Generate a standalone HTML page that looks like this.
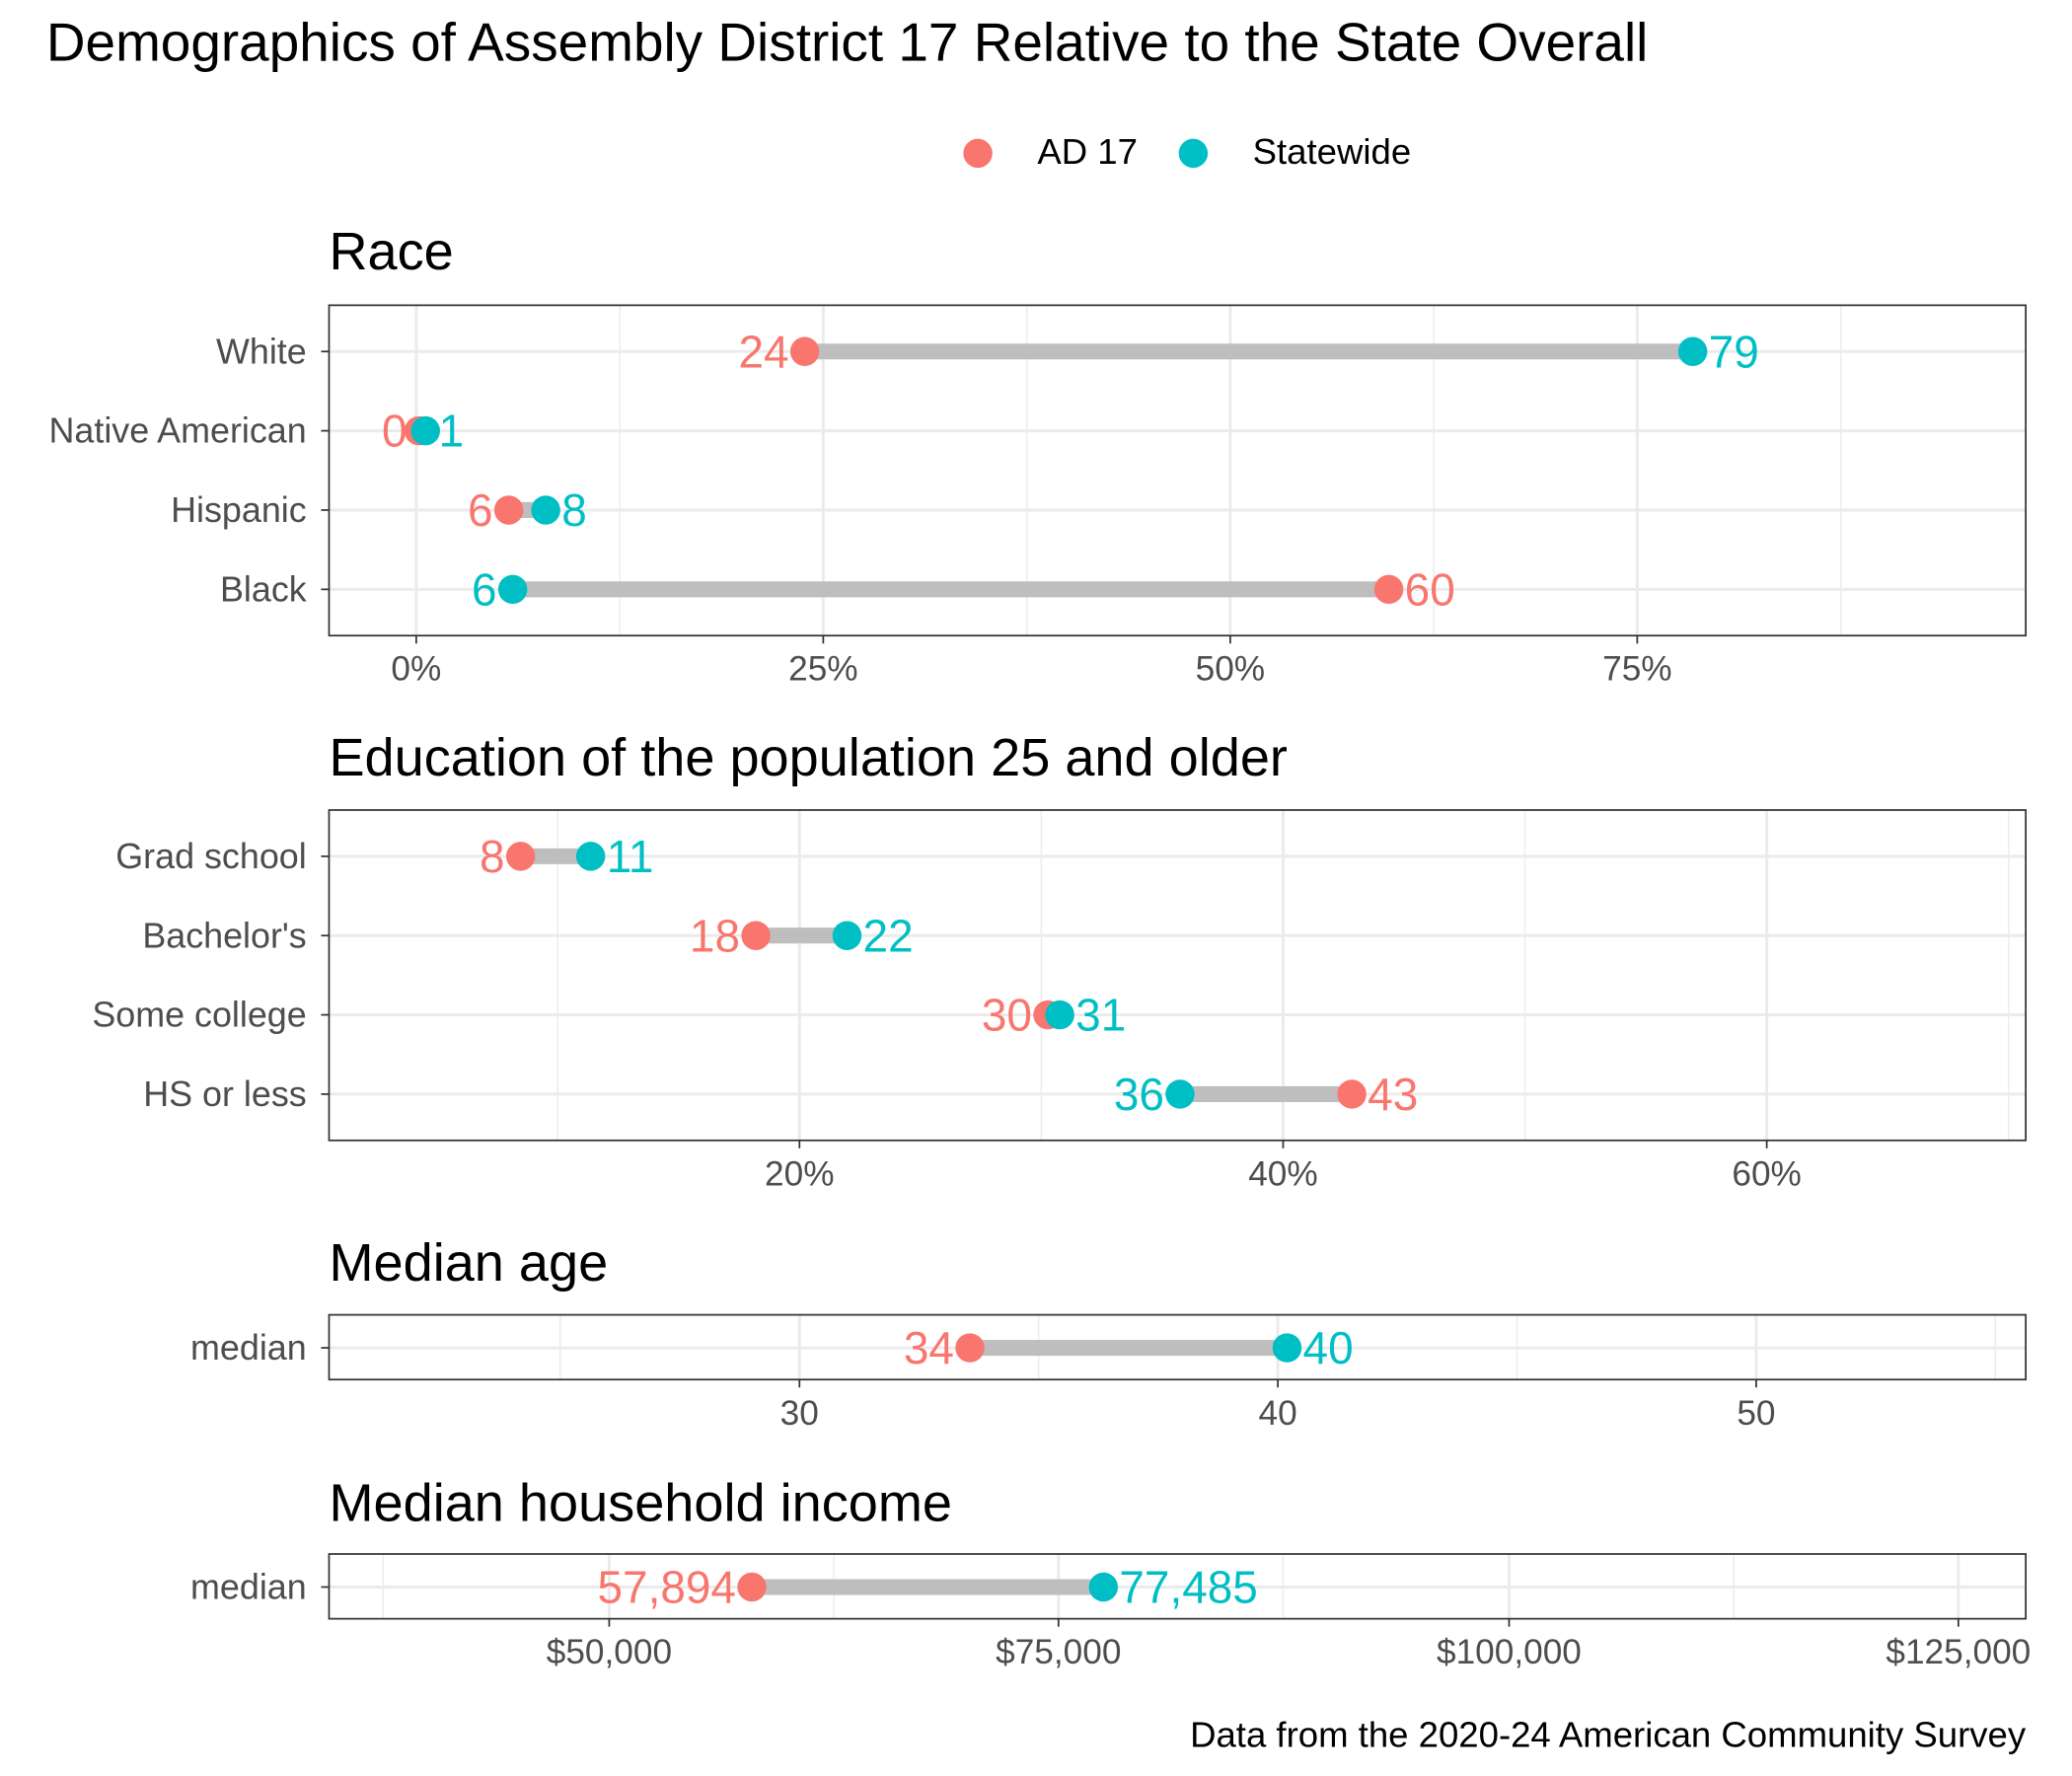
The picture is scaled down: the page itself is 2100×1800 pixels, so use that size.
<!DOCTYPE html>
<html><head><meta charset="utf-8"><style>
html,body{margin:0;padding:0;background:#fff;}
svg{display:block;}
text{font-family:"Liberation Sans",Arial,sans-serif;}
</style></head><body>
<svg width="2100" height="1800" viewBox="0 0 1568 1344" preserveAspectRatio="none" xmlns="http://www.w3.org/2000/svg">
<rect width="1568" height="1344" fill="#fff"/>
<text x="35" y="46" font-size="41" fill="#000">Demographics of Assembly District 17 Relative to the State Overall</text>
<circle cx="740" cy="116" r="11" fill="#F8766D"/>
<text x="785" y="124" font-size="27.3" fill="#000">AD 17</text>
<circle cx="903" cy="116" r="11" fill="#00BFC4"/>
<text x="948" y="124" font-size="27.3" fill="#000">Statewide</text>

<!-- Race -->
<text x="249" y="204" font-size="40.4" fill="#000">Race</text>
<g stroke="#ebebeb">
<line x1="469" y1="231" x2="469" y2="481" stroke-width="1"/>
<line x1="777" y1="231" x2="777" y2="481" stroke-width="1"/>
<line x1="1085" y1="231" x2="1085" y2="481" stroke-width="1"/>
<line x1="1393" y1="231" x2="1393" y2="481" stroke-width="1"/>
<line x1="315" y1="231" x2="315" y2="481" stroke-width="2.2"/>
<line x1="623" y1="231" x2="623" y2="481" stroke-width="2.2"/>
<line x1="931" y1="231" x2="931" y2="481" stroke-width="2.2"/>
<line x1="1239" y1="231" x2="1239" y2="481" stroke-width="2.2"/>
<line x1="249" y1="266" x2="1533" y2="266" stroke-width="2.2"/>
<line x1="249" y1="326" x2="1533" y2="326" stroke-width="2.2"/>
<line x1="249" y1="386" x2="1533" y2="386" stroke-width="2.2"/>
<line x1="249" y1="446" x2="1533" y2="446" stroke-width="2.2"/>
</g>
<g stroke="#bebebe" stroke-width="12">
<line x1="609" y1="266" x2="1281" y2="266"/>
<line x1="317" y1="326" x2="322" y2="326"/>
<line x1="385" y1="386" x2="413" y2="386"/>
<line x1="388" y1="446" x2="1051" y2="446"/>
</g>
<g fill="#F8766D"><circle cx="609" cy="266" r="11"/><circle cx="317" cy="326" r="11"/><circle cx="385" cy="386" r="11"/><circle cx="1051" cy="446" r="11"/></g>
<g fill="#00BFC4"><circle cx="1281" cy="266" r="11"/><circle cx="322" cy="326" r="11"/><circle cx="413" cy="386" r="11"/><circle cx="388" cy="446" r="11"/></g>
<g font-size="34.3">
<text x="597" y="278" text-anchor="end" fill="#F8766D">24</text>
<text x="1293" y="278" fill="#00BFC4">79</text>
<text x="308" y="338" text-anchor="end" fill="#F8766D">0</text>
<text x="332" y="338" fill="#00BFC4">1</text>
<text x="373" y="398" text-anchor="end" fill="#F8766D">6</text>
<text x="425" y="398" fill="#00BFC4">8</text>
<text x="376" y="458" text-anchor="end" fill="#00BFC4">6</text>
<text x="1063" y="458" fill="#F8766D">60</text>
</g>
<rect x="249" y="231" width="1284" height="250" fill="none" stroke="#333" stroke-width="1.3"/>
<g font-size="26.8" fill="#4d4d4d" text-anchor="end">
<text x="232" y="275">White</text><text x="232" y="335">Native American</text><text x="232" y="395">Hispanic</text><text x="232" y="455">Black</text>
</g>
<g stroke="#333" stroke-width="1.3">
<line x1="243" y1="266" x2="249" y2="266"/><line x1="243" y1="326" x2="249" y2="326"/><line x1="243" y1="386" x2="249" y2="386"/><line x1="243" y1="446" x2="249" y2="446"/>
<line x1="315" y1="481" x2="315" y2="487"/><line x1="623" y1="481" x2="623" y2="487"/><line x1="931" y1="481" x2="931" y2="487"/><line x1="1239" y1="481" x2="1239" y2="487"/>
</g>
<g font-size="26.3" fill="#4d4d4d" text-anchor="middle">
<text x="315" y="515">0%</text><text x="623" y="515">25%</text><text x="931" y="515">50%</text><text x="1239" y="515">75%</text>
</g>

<!-- Education -->
<text x="249" y="587" font-size="40.4" fill="#000">Education of the population 25 and older</text>
<g stroke="#ebebeb">
<line x1="422" y1="613" x2="422" y2="863" stroke-width="1"/>
<line x1="788" y1="613" x2="788" y2="863" stroke-width="1"/>
<line x1="1154" y1="613" x2="1154" y2="863" stroke-width="1"/>
<line x1="1520" y1="613" x2="1520" y2="863" stroke-width="1"/>
<line x1="605" y1="613" x2="605" y2="863" stroke-width="2.2"/>
<line x1="971" y1="613" x2="971" y2="863" stroke-width="2.2"/>
<line x1="1337" y1="613" x2="1337" y2="863" stroke-width="2.2"/>
<line x1="249" y1="648" x2="1533" y2="648" stroke-width="2.2"/>
<line x1="249" y1="708" x2="1533" y2="708" stroke-width="2.2"/>
<line x1="249" y1="768" x2="1533" y2="768" stroke-width="2.2"/>
<line x1="249" y1="828" x2="1533" y2="828" stroke-width="2.2"/>
</g>
<g stroke="#bebebe" stroke-width="12">
<line x1="394" y1="648" x2="447" y2="648"/>
<line x1="572" y1="708" x2="641" y2="708"/>
<line x1="793" y1="768" x2="802" y2="768"/>
<line x1="893" y1="828" x2="1023" y2="828"/>
</g>
<g fill="#F8766D"><circle cx="394" cy="648" r="11"/><circle cx="572" cy="708" r="11"/><circle cx="793" cy="768" r="11"/><circle cx="1023" cy="828" r="11"/></g>
<g fill="#00BFC4"><circle cx="447" cy="648" r="11"/><circle cx="641" cy="708" r="11"/><circle cx="802" cy="768" r="11"/><circle cx="893" cy="828" r="11"/></g>
<g font-size="34.3">
<text x="382" y="660" text-anchor="end" fill="#F8766D">8</text>
<text x="459" y="660" fill="#00BFC4">11</text>
<text x="560" y="720" text-anchor="end" fill="#F8766D">18</text>
<text x="653" y="720" fill="#00BFC4">22</text>
<text x="781" y="780" text-anchor="end" fill="#F8766D">30</text>
<text x="814" y="780" fill="#00BFC4">31</text>
<text x="881" y="840" text-anchor="end" fill="#00BFC4">36</text>
<text x="1035" y="840" fill="#F8766D">43</text>
</g>
<rect x="249" y="613" width="1284" height="250" fill="none" stroke="#333" stroke-width="1.3"/>
<g font-size="26.8" fill="#4d4d4d" text-anchor="end">
<text x="232" y="657">Grad school</text><text x="232" y="717">Bachelor's</text><text x="232" y="777">Some college</text><text x="232" y="837">HS or less</text>
</g>
<g stroke="#333" stroke-width="1.3">
<line x1="243" y1="648" x2="249" y2="648"/><line x1="243" y1="708" x2="249" y2="708"/><line x1="243" y1="768" x2="249" y2="768"/><line x1="243" y1="828" x2="249" y2="828"/>
<line x1="605" y1="863" x2="605" y2="869"/><line x1="971" y1="863" x2="971" y2="869"/><line x1="1337" y1="863" x2="1337" y2="869"/>
</g>
<g font-size="26.3" fill="#4d4d4d" text-anchor="middle">
<text x="605" y="897">20%</text><text x="971" y="897">40%</text><text x="1337" y="897">60%</text>
</g>

<!-- Median age -->
<text x="249" y="969" font-size="40.4" fill="#000">Median age</text>
<g stroke="#ebebeb">
<line x1="424" y1="995" x2="424" y2="1044" stroke-width="1"/>
<line x1="786" y1="995" x2="786" y2="1044" stroke-width="1"/>
<line x1="1148" y1="995" x2="1148" y2="1044" stroke-width="1"/>
<line x1="1510" y1="995" x2="1510" y2="1044" stroke-width="1"/>
<line x1="605" y1="995" x2="605" y2="1044" stroke-width="2.2"/>
<line x1="967" y1="995" x2="967" y2="1044" stroke-width="2.2"/>
<line x1="1329" y1="995" x2="1329" y2="1044" stroke-width="2.2"/>
<line x1="249" y1="1020" x2="1533" y2="1020" stroke-width="2.2"/>
</g>
<line x1="734" y1="1020" x2="974" y2="1020" stroke="#bebebe" stroke-width="12"/>
<circle cx="734" cy="1020" r="11" fill="#F8766D"/><circle cx="974" cy="1020" r="11" fill="#00BFC4"/>
<text x="722" y="1032" font-size="34.3" text-anchor="end" fill="#F8766D">34</text>
<text x="986" y="1032" font-size="34.3" fill="#00BFC4">40</text>
<rect x="249" y="995" width="1284" height="49" fill="none" stroke="#333" stroke-width="1.3"/>
<text x="232" y="1029" font-size="26.8" fill="#4d4d4d" text-anchor="end">median</text>
<g stroke="#333" stroke-width="1.3">
<line x1="243" y1="1020" x2="249" y2="1020"/>
<line x1="605" y1="1044" x2="605" y2="1050"/><line x1="967" y1="1044" x2="967" y2="1050"/><line x1="1329" y1="1044" x2="1329" y2="1050"/>
</g>
<g font-size="26.3" fill="#4d4d4d" text-anchor="middle">
<text x="605" y="1078">30</text><text x="967" y="1078">40</text><text x="1329" y="1078">50</text>
</g>

<!-- Income -->
<text x="249" y="1151" font-size="40.4" fill="#000">Median household income</text>
<g stroke="#ebebeb">
<line x1="290" y1="1176" x2="290" y2="1225" stroke-width="1"/>
<line x1="631" y1="1176" x2="631" y2="1225" stroke-width="1"/>
<line x1="971" y1="1176" x2="971" y2="1225" stroke-width="1"/>
<line x1="1312" y1="1176" x2="1312" y2="1225" stroke-width="1"/>
<line x1="461" y1="1176" x2="461" y2="1225" stroke-width="2.2"/>
<line x1="801" y1="1176" x2="801" y2="1225" stroke-width="2.2"/>
<line x1="1142" y1="1176" x2="1142" y2="1225" stroke-width="2.2"/>
<line x1="1482" y1="1176" x2="1482" y2="1225" stroke-width="2.2"/>
<line x1="249" y1="1201" x2="1533" y2="1201" stroke-width="2.2"/>
</g>
<line x1="569" y1="1201" x2="835" y2="1201" stroke="#bebebe" stroke-width="12"/>
<circle cx="569" cy="1201" r="11" fill="#F8766D"/><circle cx="835" cy="1201" r="11" fill="#00BFC4"/>
<text x="557" y="1213" font-size="34.3" text-anchor="end" fill="#F8766D">57,894</text>
<text x="847" y="1213" font-size="34.3" fill="#00BFC4">77,485</text>
<rect x="249" y="1176" width="1284" height="49" fill="none" stroke="#333" stroke-width="1.3"/>
<text x="232" y="1210" font-size="26.8" fill="#4d4d4d" text-anchor="end">median</text>
<g stroke="#333" stroke-width="1.3">
<line x1="243" y1="1201" x2="249" y2="1201"/>
<line x1="461" y1="1225" x2="461" y2="1231"/><line x1="801" y1="1225" x2="801" y2="1231"/><line x1="1142" y1="1225" x2="1142" y2="1231"/><line x1="1482" y1="1225" x2="1482" y2="1231"/>
</g>
<g font-size="26.3" fill="#4d4d4d" text-anchor="middle">
<text x="461" y="1259">$50,000</text><text x="801" y="1259">$75,000</text><text x="1142" y="1259">$100,000</text><text x="1482" y="1259">$125,000</text>
</g>

<text x="1533" y="1322" font-size="27.3" fill="#000" text-anchor="end">Data from the 2020-24 American Community Survey</text>
</svg>
</body></html>
